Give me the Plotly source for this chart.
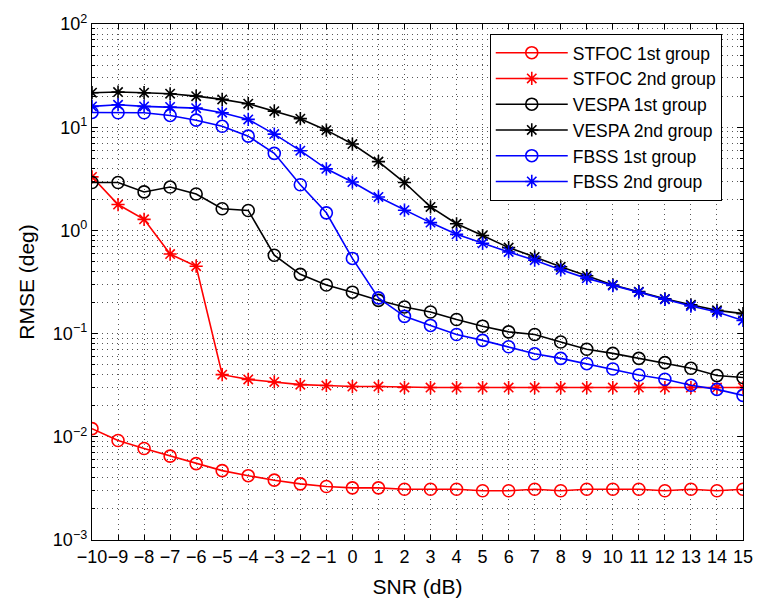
import plotly.graph_objects as go

snr = list(range(-10, 16))

stfoc_1st = [0.0120, 0.0092, 0.0077, 0.0065, 0.0055, 0.0047, 0.0042, 0.0038, 0.0035, 0.0033,
             0.0032, 0.0032, 0.0031, 0.0031, 0.0031, 0.0030, 0.0030, 0.0031, 0.0030, 0.0031,
             0.0031, 0.0031, 0.0030, 0.0031, 0.0030, 0.0031]
stfoc_2nd = [3.3, 1.78, 1.28, 0.59, 0.45, 0.040, 0.036, 0.034, 0.032, 0.0314,
             0.0307, 0.0307, 0.0301, 0.0300, 0.0300, 0.0300, 0.0300, 0.0300, 0.0300, 0.0300,
             0.0300, 0.0300, 0.0300, 0.0300, 0.0300, 0.0300]
vespa_1st = [2.91, 2.91, 2.36, 2.63, 2.25, 1.62, 1.56, 0.575, 0.375, 0.296,
             0.252, 0.21, 0.181, 0.162, 0.137, 0.118, 0.104, 0.098, 0.083, 0.0706,
             0.0643, 0.0575, 0.0523, 0.0461, 0.0392, 0.0375]
vespa_2nd = [21.6, 21.9, 21.6, 21.1, 20.0, 18.6, 16.9, 14.3, 12.1, 9.36,
             6.87, 4.64, 2.91, 1.69, 1.16, 0.891, 0.681, 0.553, 0.444, 0.364,
             0.296, 0.255, 0.217, 0.190, 0.168, 0.156]
fbss_1st = [13.9, 13.8, 13.8, 13.0, 11.7, 10.2, 8.19, 5.58, 2.77, 1.48,
            0.535, 0.222, 0.147, 0.120, 0.098, 0.086, 0.0745, 0.0638, 0.0575, 0.0511,
            0.0454, 0.0397, 0.0361, 0.0316, 0.0288, 0.0252]
fbss_2nd = [15.9, 16.5, 15.9, 15.7, 15.3, 13.8, 11.9, 8.57, 5.92, 3.95,
            2.94, 2.11, 1.57, 1.19, 0.916, 0.750, 0.618, 0.515, 0.415, 0.343,
            0.292, 0.252, 0.215, 0.185, 0.162, 0.134]

names = ["STFOC 1st group", "STFOC 2nd group", "VESPA 1st group",
         "VESPA 2nd group", "FBSS 1st group", "FBSS 2nd group"]
colors = ["#ff0000", "#ff0000", "#000000", "#000000", "#0000ff", "#0000ff"]
symbols = ["circle-open", "asterisk-open", "circle-open", "asterisk-open", "circle-open", "asterisk-open"]
series = [stfoc_1st, stfoc_2nd, vespa_1st, vespa_2nd, fbss_1st, fbss_2nd]

x_ticks = list(range(-10, 16))
x_ticktext = [("\u2212" + str(-v)) if v < 0 else str(v) for v in x_ticks]
y_tickvals = [1e-3, 1e-2, 1e-1, 1, 10, 100]
y_ticktext = ["10<sup>\u22123</sup>", "10<sup>\u22122</sup>", "10<sup>\u22121</sup>",
              "10<sup>0</sup>", "10<sup>1</sup>", "10<sup>2</sup>"]
y_minor = [m * 10.0 ** e for e in range(-3, 2) for m in range(2, 10)]

fig = go.Figure()
for name, c, s, y in zip(names, colors, symbols, series):
    fig.add_trace(go.Scatter(
        x=snr, y=y, name=name, mode="lines+markers",
        line=dict(color=c, width=1.6),
        marker=dict(symbol=s, size=12 if s == "circle-open" else 11,
                    color=c, line=dict(color=c, width=1.6)),
    ))

font_family = "Liberation Sans, Arial, sans-serif"
grid_kw = dict(showgrid=True, gridcolor="#555555", griddash="1px,4px", gridwidth=1)
fig.update_layout(
    width=765, height=606,
    margin=dict(l=92, r=12, t=23, b=63),
    paper_bgcolor="white", plot_bgcolor="white",
    font=dict(family=font_family, size=18, color="black"),
    showlegend=True,
    legend=dict(x=0.611, y=0.981, xanchor="left", yanchor="top",
                bgcolor="white", bordercolor="black", borderwidth=1,
                itemwidth=72,
                font=dict(size=17.5, color="black")),
    xaxis=dict(
        range=[-10, 15], tickvals=x_ticks, ticktext=x_ticktext, tickangle=0,
        ticks="inside", ticklen=5, tickcolor="black", mirror="allticks",
        showline=True, linecolor="black", linewidth=1.3,
        zeroline=False, tickfont=dict(size=18),
        title=dict(text="SNR (dB)", font=dict(size=21), standoff=13),
        **grid_kw,
    ),
    yaxis=dict(
        type="log", range=[-3, 2], tickvals=y_tickvals, ticktext=y_ticktext,
        ticks="inside", ticklen=6, tickcolor="black", mirror="allticks",
        showline=True, linecolor="black", linewidth=1.3,
        zeroline=False, tickfont=dict(size=18),
        minor=dict(tickvals=y_minor, ticks="inside", ticklen=3, tickcolor="black",
                   **grid_kw),
        title=dict(text="RMSE (deg)", font=dict(size=21), standoff=12),
        **grid_kw,
    ),
)

fig.write_html("out.html")
